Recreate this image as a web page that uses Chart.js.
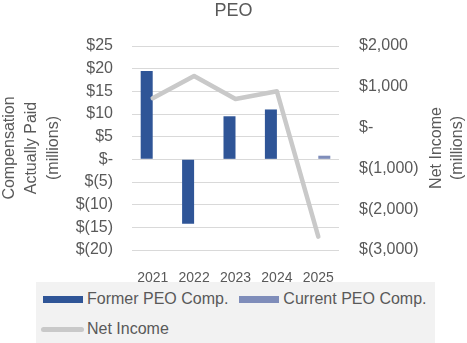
<!DOCTYPE html>
<html>
<head>
<meta charset="utf-8">
<script src="https://cdn.jsdelivr.net/npm/chart.js@4"></script>
<style>
    body { margin: 0; background: #fff; }
    .wrap { position: relative; width: 467px; height: 343px; overflow: hidden; }
    .plot { position: relative; width: 467px; height: 282px; }
    #legend {
        position: absolute; left: 36px; top: 282px; width: 399px; height: 61px;
        background: #f2f2f2; overflow: visible;
    }
    #legend ul {
        list-style: none; margin: 0; padding: 2px 0 0 5px; width: 420px;
        display: flex; flex-wrap: wrap;
        font: 16px 'Liberation Sans', Arial, sans-serif; color: #595959;
    }
    #legend li { display: flex; align-items: center; height: 30px; margin-right: 9px; white-space: nowrap; }
    #legend .sw { width: 46px; display: flex; align-items: center; }
    #legend .sw span { display: block; }
</style>
</head>
<body>
<div class="wrap">
    <div class="plot"><canvas id="peoChart"></canvas></div>
    <div id="legend"></div>
</div>
<script>
// Fiscal years on the category axis
const years = ['2021', '2022', '2023', '2024', '2025'];

// Compensation actually paid, $ millions
const formerPeoComp = [19.5, -14.2, 9.5, 11.0, null];
const currentPeoComp = [null, null, null, null, 0.8];

// Net income, $ millions
const netIncome = [720, 1265, 700, 890, -2674];

// Axis ranges / tick steps
const compTicks = { min: -20, max: 25, step: 5 };
const incomeTicks = { min: -3000, max: 2000, step: 1000 };

const textGray = '#595959';
const fontFamily = "'Liberation Sans', Arial, sans-serif";

function money(v) {
    if (v === 0) return '$-';
    const s = Math.abs(v).toLocaleString('en-US');
    return v < 0 ? '$(' + s + ')' : '$' + s;
}

// Rotated axis titles, both reading bottom-to-top
const axisTitles = {
    id: 'axisTitles',
    afterDraw(chart) {
        const { ctx, chartArea } = chart;
        const cy = (chartArea.top + chartArea.bottom) / 2;
        const put = (lines, xs) => lines.forEach((t, i) => {
            ctx.save();
            ctx.translate(xs[i], cy);
            ctx.rotate(-Math.PI / 2);
            ctx.fillText(t, 0, 0);
            ctx.restore();
        });
        ctx.save();
        ctx.font = '16px ' + fontFamily;
        ctx.fillStyle = textGray;
        ctx.textAlign = 'center';
        ctx.textBaseline = 'middle';
        put(['Compensation', 'Actually Paid', '(millions)'], [9.5, 31.5, 53.5]);
        put(['Net Income', '(millions)'], [436.5, 457.5]);
        ctx.restore();
    }
};

const ctx = document.getElementById('peoChart').getContext('2d');
const peoChart = new Chart(ctx, {
    type: 'bar',
    data: {
        labels: years,
        datasets: [{
            label: 'Former PEO Comp.',
            data: formerPeoComp,
            backgroundColor: '#2f5597',
            yAxisID: 'y',
            categoryPercentage: 0.58,
            barPercentage: 1.0
        }, {
            label: 'Current PEO Comp.',
            data: currentPeoComp,
            backgroundColor: '#7f8dba',
            yAxisID: 'y',
            categoryPercentage: 0.58,
            barPercentage: 1.0
        }, {
            type: 'line',
            label: 'Net Income',
            data: netIncome,
            borderColor: '#c9c9c9',
            backgroundColor: '#c9c9c9',
            borderWidth: 4.5,
            borderCapStyle: 'round',
            borderJoinStyle: 'round',
            pointRadius: 0,
            tension: 0,
            yAxisID: 'y1',
            order: -1
        }]
    },
    options: {
        responsive: true,
        maintainAspectRatio: false,
        animation: false,
        layout: { padding: 0 },
        plugins: {
            legend: { display: false },
            tooltip: { enabled: false },
            title: {
                display: true,
                text: 'PEO',
                color: textGray,
                font: { family: fontFamily, size: 18, weight: 'normal' },
                padding: { top: 0, bottom: 24.4 }
            }
        },
        scales: {
            x: {
                grid: { display: false },
                border: { display: false },
                ticks: { color: textGray, font: { family: fontFamily, size: 14 }, padding: 12 },
                afterFit: s => { s.height = 32; }
            },
            y: {
                position: 'left',
                min: compTicks.min,
                max: compTicks.max,
                grid: { color: '#d9d9d9', drawTicks: false },
                border: { display: false },
                ticks: {
                    stepSize: compTicks.step,
                    autoSkip: false,
                    padding: 19,
                    color: textGray,
                    font: { family: fontFamily, size: 16 },
                    callback: v => money(v)
                },
                afterFit: s => { s.width = 132; }
            },
            y1: {
                position: 'right',
                min: incomeTicks.min,
                max: incomeTicks.max,
                grid: { display: false, drawTicks: false },
                border: { display: false },
                ticks: {
                    stepSize: incomeTicks.step,
                    autoSkip: false,
                    padding: 20,
                    color: textGray,
                    font: { family: fontFamily, size: 16 },
                    callback: v => money(v)
                },
                afterFit: s => { s.width = 128; }
            }
        }
    },
    plugins: [axisTitles]
});

// HTML legend built from the chart's datasets
function buildLegend(chart) {
    const ul = document.createElement('ul');
    chart.data.datasets.forEach(ds => {
        const li = document.createElement('li');
        const sw = document.createElement('div');
        sw.className = 'sw';
        const mark = document.createElement('span');
        if (ds.type === 'line') {
            mark.style.cssText = 'width:43px;height:5px;border-radius:3px;background:' + ds.borderColor;
        } else {
            mark.style.cssText = 'width:40px;height:7px;margin-left:2px;background:' + ds.backgroundColor;
        }
        sw.appendChild(mark);
        li.appendChild(sw);
        li.appendChild(document.createTextNode(ds.label));
        ul.appendChild(li);
    });
    document.getElementById('legend').appendChild(ul);
}
buildLegend(peoChart);
</script>
</body>
</html>
